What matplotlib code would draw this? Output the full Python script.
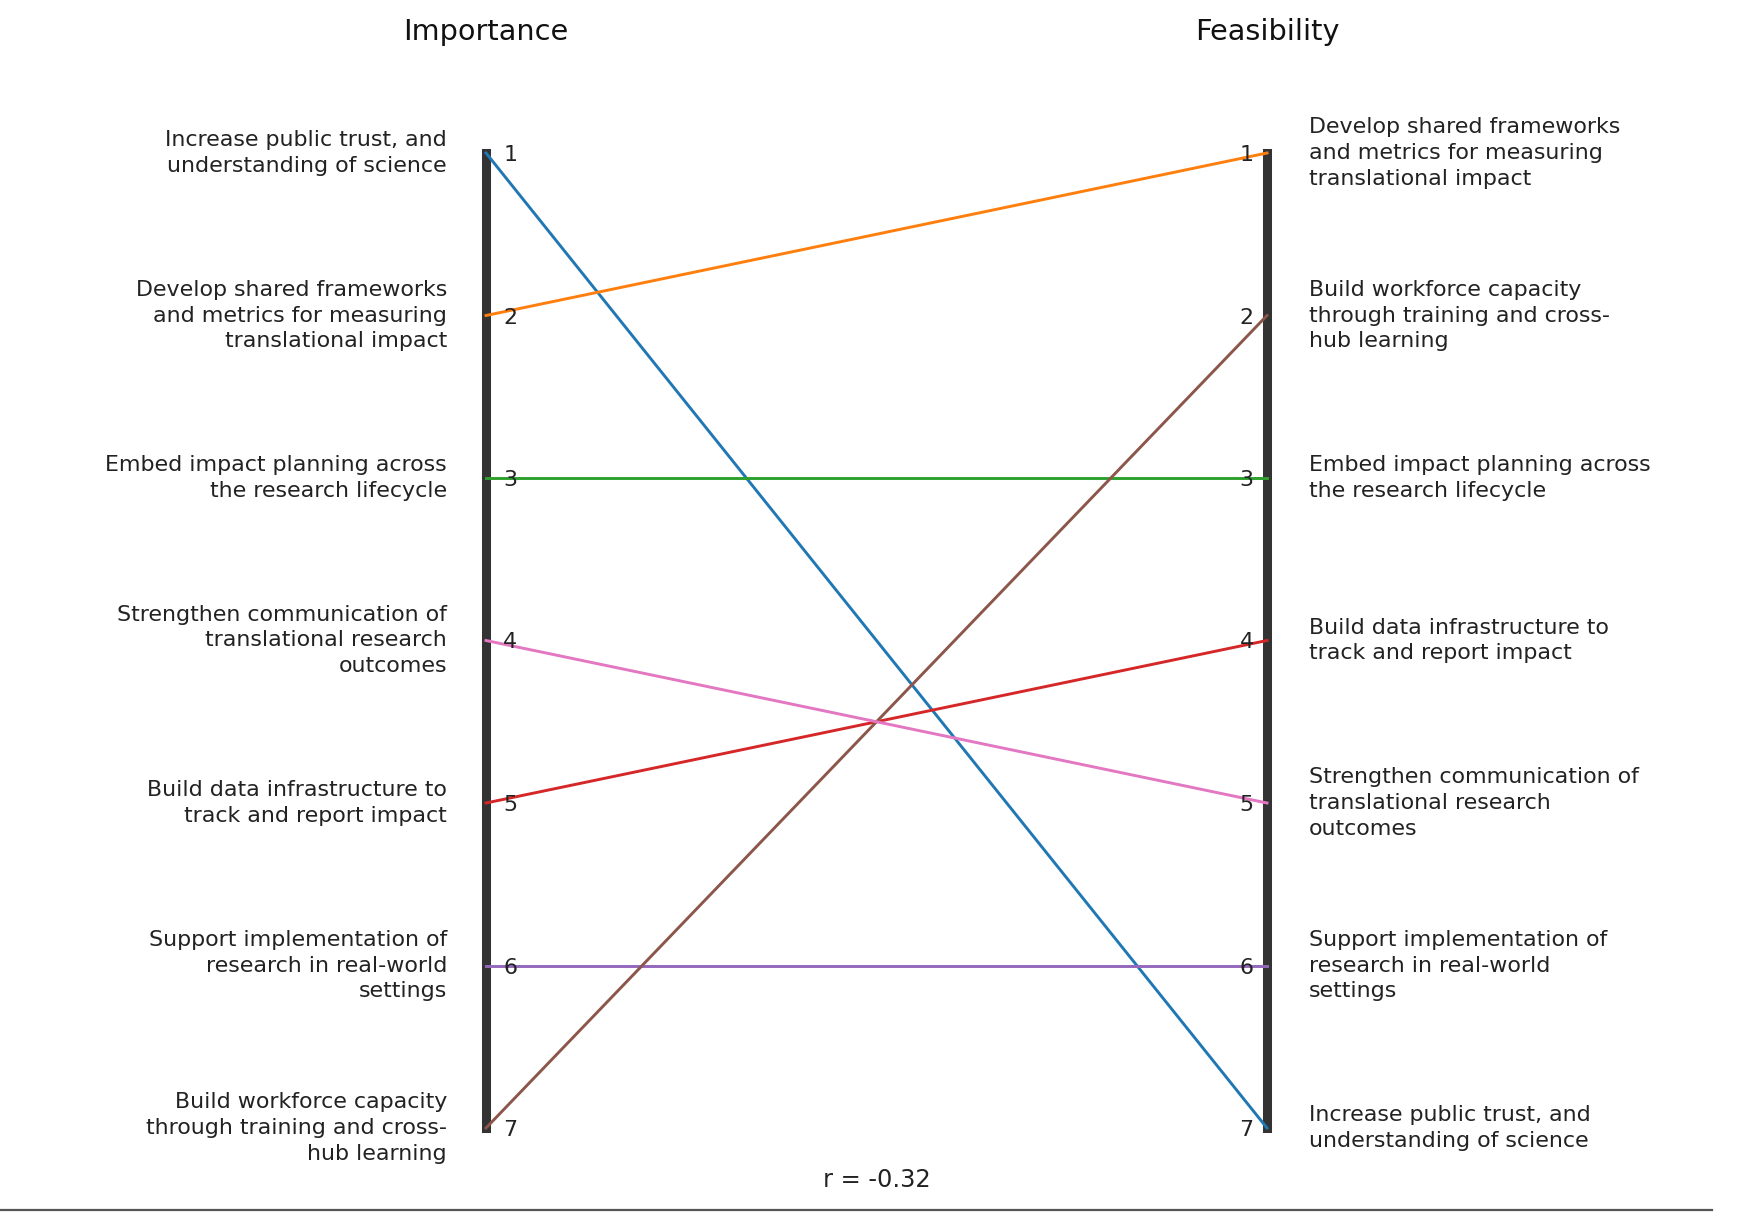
import numpy as np
import matplotlib
matplotlib.use('Agg')
import matplotlib.pyplot as plt
from matplotlib.lines import Line2D

# items in plotting (colour) order
items = [
    'Increase public trust, and\nunderstanding of science',
    'Develop shared frameworks\nand metrics for measuring\ntranslational impact',
    'Embed impact planning across\nthe research lifecycle',
    'Build data infrastructure to\ntrack and report impact',
    'Support implementation of\nresearch in real-world\nsettings',
    'Build workforce capacity\nthrough training and cross-\nhub learning',
    'Strengthen communication of\ntranslational research\noutcomes',
]
importance_rank = [1, 2, 3, 5, 6, 7, 4]
feasibility_rank = [7, 1, 3, 4, 6, 2, 5]
colors = ['#1f77b4', '#ff7f0e', '#2ca02c', '#d62728', '#9467bd', '#8c564b', '#e377c2']
titles = ['Importance', 'Feasibility']
r_text = 'r = -0.32'

W, H, DPI = 1752, 1216, 100
fig = plt.figure(figsize=(W / DPI, H / DPI), dpi=DPI)
ax = fig.add_axes([0, 0, 1, 1])

# pixel layout -> data limits
x_left, x_right = 486, 1267
y_top, step = 153, 162.5
b = x_right - x_left
ax.set_xlim(-x_left / b, (W - x_left) / b)
ax.set_ylim(1 + (H - y_top) / step, 1 - y_top / step)
ax.axis('off')

n = len(items)
txt_col = '#222222'
fs = 15.9

# axis bars
for x in [0, 1]:
    ax.plot([x, x], [1, n], color='#333333', lw=6.5, solid_capstyle='projecting', zorder=1)

for i in range(n):
    ax.plot([0, 1], [importance_rank[i], feasibility_rank[i]], color=colors[i], lw=2.1, zorder=2)
    ax.text(-0.05, importance_rank[i], items[i], ha='right', va='center', fontsize=fs,
            color=txt_col, linespacing=1.37)
    ax.text(1.054, feasibility_rank[i], items[i], ha='left', va='center', fontsize=fs,
            color=txt_col, linespacing=1.37)

for k in range(1, n + 1):
    ax.text(0.022, k, str(k), ha='left', va='center_baseline', fontsize=fs, color=txt_col, zorder=3)
    ax.text(1 - 0.017, k, str(k), ha='right', va='center_baseline', fontsize=fs, color=txt_col, zorder=3)

tr = ax.get_xaxis_transform()
for x, t in zip([0, 1], titles):
    ax.text(x, 1 - 32 / H, t, transform=tr, ha='center', va='center', fontsize=20.7, color='#111111')

ax.text(0.5, 1 - 1180 / H, r_text, transform=tr, ha='center', va='center', fontsize=17.4, color=txt_col)

# screenshot border line at the bottom
fig.add_artist(Line2D([0, 1712 / W], [1 - 1210 / H, 1 - 1210 / H], transform=fig.transFigure,
                      color='#555555', lw=1.6))

fig.savefig('out.png', dpi=DPI, facecolor='white')
